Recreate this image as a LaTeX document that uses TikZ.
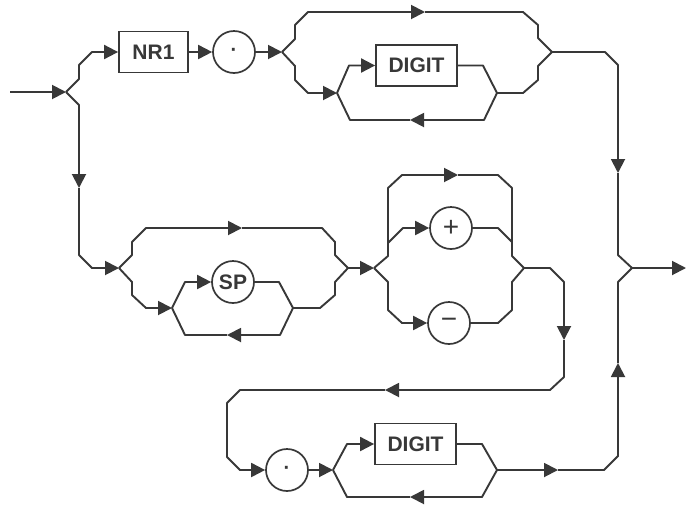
\documentclass[tikz,border=0pt]{standalone}
\usepackage{fontspec}
\setmainfont{Liberation Sans}
\usetikzlibrary{arrows.meta}
\definecolor{ink}{HTML}{383838}
\begin{document}
\begin{tikzpicture}[x=1pt,y=-1pt,
  ln/.style={draw=ink,line width=1.9pt,line join=round},
  ar/.style={ln,-{Triangle[length=14pt,width=14pt]}},
  boxnode/.style={draw=ink,line width=1.8pt,minimum width=81pt,minimum height=41pt,inner sep=0pt,text=ink,font=\fontsize{21}{21}\selectfont\bfseries},
  circ/.style={circle,draw=ink,line width=1.7pt,minimum size=42pt,inner sep=0pt,text=ink,font=\fontsize{21}{21}\selectfont\bfseries},
  sym/.style={circ,font=\fontsize{28}{28}\selectfont},
  dotc/.style={circ,font=\fontsize{20}{20}\selectfont\bfseries}]
\fill[white] (0,0) rectangle (693,507);
\useasboundingbox (0,0) rectangle (693,507);
% nodes and junctions
\coordinate (s) at (10,92);
\coordinate (j0) at (66,92);
\node[boxnode,minimum width=69pt] (nr1) at (153.5,52) {NR1};
\node[dotc] (d1) at (234,52) {·};
\coordinate (j1) at (282,52);
\node[boxnode] (dg1) at (416.5,65.5) {DIGIT};
\coordinate (j1b) at (337,93);
\coordinate (j1c) at (497,93);
\coordinate (j1o) at (552,52);
\coordinate (je) at (632,268);
\coordinate (ex) at (686,268);
\coordinate (j2) at (119,268);
\coordinate (j2b) at (172,308);
\node[circ] (sp) at (233,282) {SP};
\coordinate (j2c) at (293,308);
\coordinate (j2o) at (348,268);
\coordinate (j3) at (374,268);
\node[sym] (pl) at (451,228) {+};
\node[sym] (mi) at (449,323) {−};
\coordinate (j3o) at (524,268);
\node[dotc] (d2) at (287,470) {·};
\coordinate (j4) at (333,470);
\node[boxnode] (dg2) at (415.5,444) {DIGIT};
\coordinate (j4c) at (497,470);
% top row
\draw[ar] (s) -- (j0);
\draw[ar] (j0) -- (79,79) -- (79,65) -- (92,52) -- (nr1.west);
\draw[ar] (nr1.east) -- (d1.west);
\draw[ar] (d1.east) -- (j1);
\draw[ar] (j1) -- (295,39) -- (295,25) -- (308,12) -- (425,12);
\draw[ln] (425,12) -- (523,12) -- (538,25) -- (538,38) -- (j1o);
\draw[ar] (j1) -- (295,66) -- (295,80) -- (308,93) -- (j1b);
\draw[ar] (j1b) -- (349,65.5) -- (dg1.west);
\draw[ln] (dg1.east) -- (483,65.5) -- (j1c);
\draw[ar] (j1c) -- (484,120) -- (410,120);
\draw[ln] (410,120) -- (350,120) -- (j1b);
\draw[ln] (j1c) -- (523,93) -- (538,80) -- (538,66) -- (j1o);
\draw[ar] (j1o) -- (605,52) -- (618,65) -- (618,173);
\draw[ln] (618,173) -- (618,255) -- (je);
\draw[ar] (je) -- (ex);
% left column
\draw[ar] (j0) -- (79,105) -- (79,188);
\draw[ar] (79,188) -- (79,255) -- (92,268) -- (j2);
% SP group
\draw[ar] (j2) -- (132,255) -- (132,242) -- (146,228) -- (242,228);
\draw[ln] (242,228) -- (322,228) -- (335,242) -- (335,255) -- (j2o);
\draw[ar] (j2) -- (132,282) -- (132,295) -- (146,308) -- (j2b);
\draw[ar] (j2b) -- (185,282) -- (sp.west);
\draw[ln] (sp.east) -- (279,282) -- (j2c);
\draw[ar] (j2c) -- (280,335) -- (227,335);
\draw[ln] (227,335) -- (185,335) -- (j2b);
\draw[ln] (j2c) -- (320,308) -- (335,295) -- (335,282) -- (j2o);
\draw[ar] (j2o) -- (j3);
% sign group
\draw[ar] (j3) -- (388,256) -- (388,188) -- (402,175) -- (458,175);
\draw[ln] (458,175) -- (498,175) -- (512,188) -- (512,256) -- (j3o);
\draw[ar] (388,243) -- (403,228) -- (pl.west);
\draw[ln] (pl.east) -- (498,228) -- (512,242);
\draw[ar] (j3) -- (388,282) -- (388,310) -- (402,323) -- (mi.west);
\draw[ln] (mi.east) -- (498,323) -- (512,310) -- (512,282) -- (j3o);
% return line
\draw[ar] (j3o) -- (550,268) -- (564,282) -- (564,340);
\draw[ar] (564,340) -- (564,377) -- (550,390) -- (385,390);
\draw[ar] (385,390) -- (240,390) -- (227,403) -- (227,457) -- (240,470) -- (d2.west);
\draw[ar] (d2.east) -- (j4);
\draw[ar] (j4) -- (347,444) -- (dg2.west);
\draw[ln] (dg2.east) -- (482,444) -- (j4c);
\draw[ar] (j4c) -- (482,497) -- (410,497);
\draw[ln] (410,497) -- (347,497) -- (j4);
\draw[ar] (j4c) -- (558,470);
\draw[ar] (558,470) -- (604,470) -- (618,456) -- (618,363);
\draw[ln] (618,363) -- (618,282) -- (je);
\end{tikzpicture}
\end{document}
